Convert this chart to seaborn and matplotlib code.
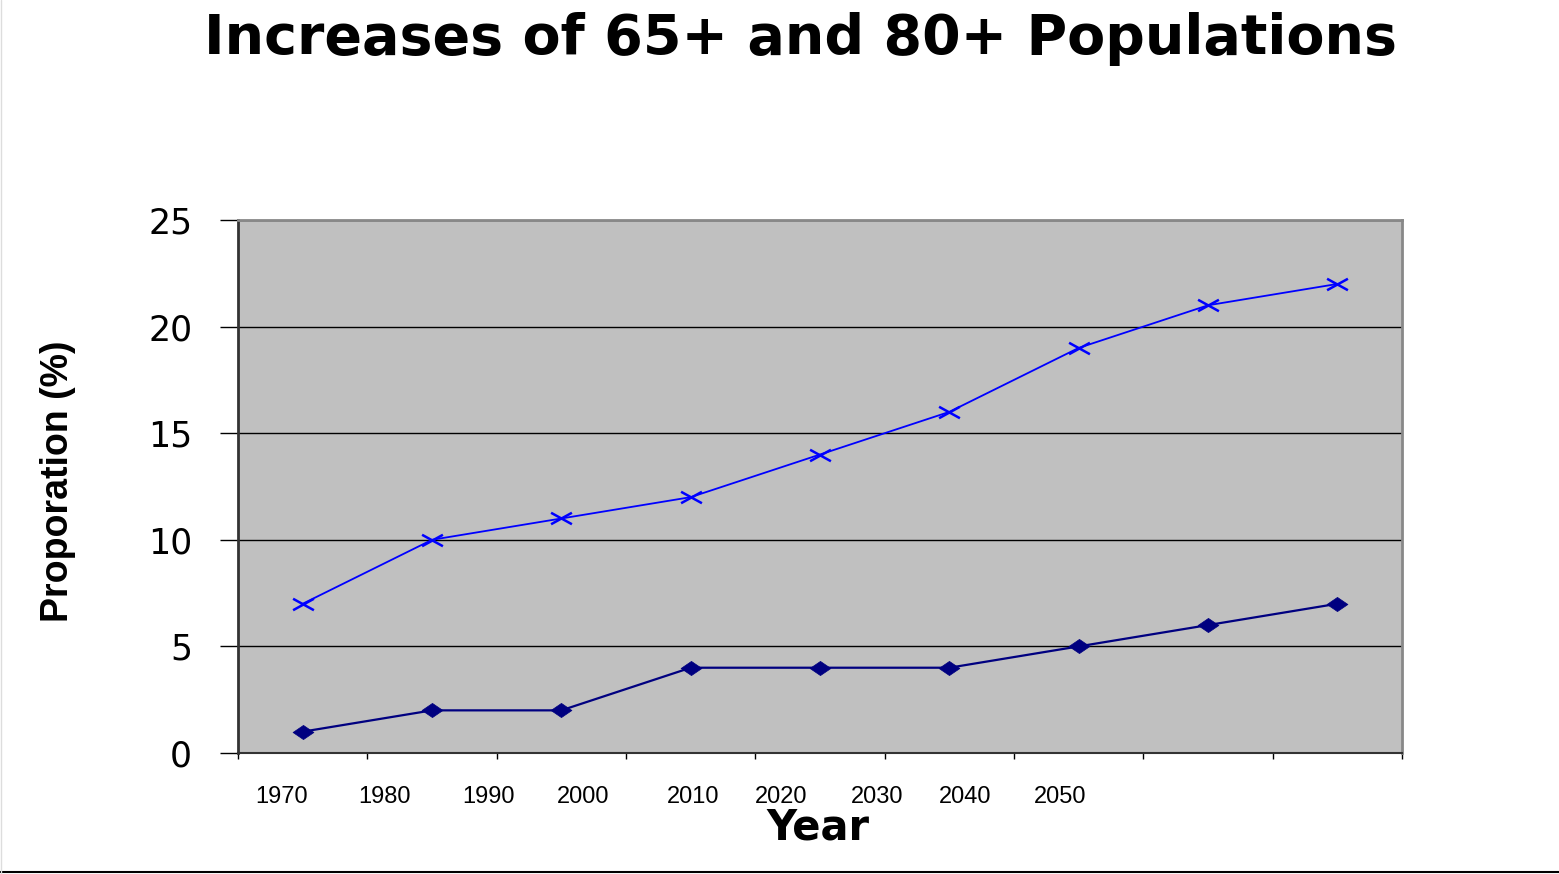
import numpy as np
import pandas as pd
import seaborn as sns
import matplotlib.pyplot as plt
from matplotlib.path import Path
from matplotlib import font_manager

# data
year_labels = ['1970', '1980', '1990', '2000', '2010', '2020', '2030', '2040', '2050']
pop65 = [7, 10, 11, 12, 14, 16, 19, 21, 22]
pop80 = [1, 2, 2, 4, 4, 4, 5, 6, 7]
y_ticks = [0, 5, 10, 15, 20, 25]

# where the year labels sit (in category units), they are not on the ticks
label_pos = [-0.16, 0.63, 1.44, 2.17, 3.02, 3.70, 4.44, 5.12, 5.86]

sns.set_style('white')
plt.rcParams['font.family'] = ['DejaVu Sans']
plt.rcParams['text.color'] = 'black'
plt.rcParams['xtick.color'] = 'black'
plt.rcParams['ytick.color'] = 'black'

names = {f.name for f in font_manager.fontManager.ttflist}
narrow = 'Liberation Sans Narrow' in names

df = pd.DataFrame({'idx': np.arange(len(pop65)), '65+': pop65, '80+': pop80})

fig = plt.figure(figsize=(15.59, 8.74), dpi=100)
ax = fig.add_axes([238 / 1559, 1 - 753 / 874, (1402 - 238) / 1559, (753 - 220) / 874])
ax.set_facecolor('#c0c0c0')

xmark = Path([(-1, -0.55), (1, 0.55), (-1, 0.55), (1, -0.55)],
             [Path.MOVETO, Path.LINETO, Path.MOVETO, Path.LINETO])
dmark = Path([(-1, 0), (0, 0.68), (1, 0), (0, -0.68), (-1, 0)],
             [Path.MOVETO, Path.LINETO, Path.LINETO, Path.LINETO, Path.CLOSEPOLY])

sns.lineplot(data=df, x='idx', y='65+', ax=ax, color='#0000ff', lw=1.3,
             marker=xmark, markersize=15, markeredgewidth=1.8,
             markeredgecolor='#0000ff', markerfacecolor='none')
sns.lineplot(data=df, x='idx', y='80+', ax=ax, color='#000080', lw=1.6,
             marker=dmark, markersize=15, markeredgewidth=0.5,
             markeredgecolor='#000080', markerfacecolor='#000080')

ax.set_xlim(-0.5, len(pop65) - 0.5)
ax.set_ylim(0, 25)
ax.set_yticks(y_ticks)
ax.set_xticks(np.arange(len(pop65) + 1) - 0.5)
ax.set_xticklabels([])
ax.tick_params(axis='x', length=4, width=1, color='black', direction='out', bottom=True)
ax.tick_params(axis='y', length=13, width=1, color='black', direction='out', left=True,
               labelsize=25, pad=20)
ax.yaxis.grid(True, color='black', lw=1)
ax.xaxis.grid(False)
ax.set_axisbelow(True)
ax.set_xlabel('')
ax.set_ylabel('')

for side in ['top', 'right']:
    ax.spines[side].set_color('#888888')
    ax.spines[side].set_linewidth(2)
ax.spines['left'].set_color('#333333')
ax.spines['left'].set_linewidth(2)
ax.spines['bottom'].set_color('#333333')
ax.spines['bottom'].set_linewidth(1.5)

lab_font = ['Liberation Sans Narrow', 'Liberation Sans'] if narrow else ['Liberation Sans']
for p, t in zip(label_pos, year_labels):
    ax.text(p, -0.082, t, transform=ax.get_xaxis_transform(), ha='center', va='center',
            fontsize=18 if narrow else 17, family=lab_font)

fig.text(800 / 1559, 1 - 39 / 874, 'Increases of 65+ and 80+ Populations',
         ha='center', va='center', fontsize=40, fontweight='bold')
fig.text(818 / 1559, 1 - 840 / 874, 'Year', ha='center', va='baseline',
         fontsize=30, fontweight='bold')
fig.text(58 / 1559, 1 - 481 / 874, 'Proporation (%)', rotation=90, ha='center', va='center',
         fontsize=32 if narrow else 27, fontweight='bold', family=lab_font)

# frame lines of the slide
fig.add_artist(plt.Line2D([0, 1], [2.5 / 874, 2.5 / 874], transform=fig.transFigure,
                          color='black', lw=1.5))
fig.add_artist(plt.Line2D([0.5 / 1559, 0.5 / 1559], [0, 1], transform=fig.transFigure,
                          color='#dddddd', lw=1))

fig.savefig('out.png', dpi=100)
